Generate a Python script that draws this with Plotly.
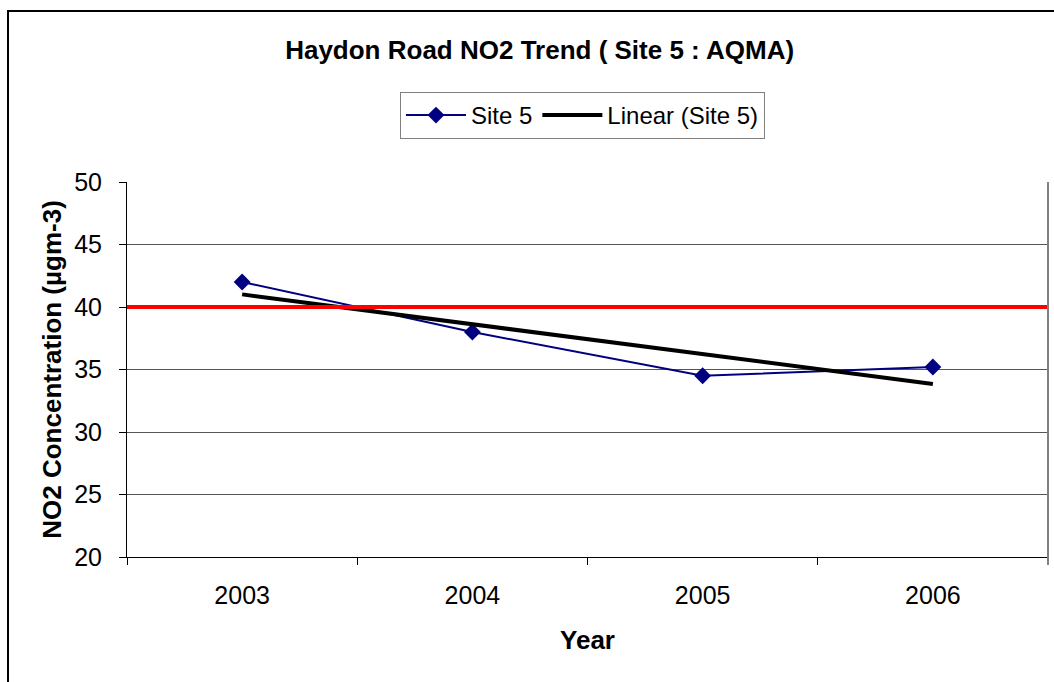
import numpy as np
import plotly.graph_objects as go

# Datos
years = ["2003", "2004", "2005", "2006"]
site5 = [42.0, 38.0, 34.5, 35.2]
objective = 40  # objetivo anual NO2

# Linea de tendencia (ajuste lineal como en Excel)
idx = np.arange(1, len(years) + 1)
slope, intercept = np.polyfit(idx, site5, 1)
trend = slope * idx + intercept

FONT = "Arial, Liberation Sans, sans-serif"

fig = go.Figure()
fig.add_trace(go.Scatter(
    x=years, y=site5, name="Site 5", mode="lines+markers",
    line=dict(color="#000080", width=2),
    marker=dict(symbol="diamond", size=13, color="#000080"),
))
fig.add_trace(go.Scatter(
    x=years, y=trend, name="Linear (Site 5)", mode="lines",
    line=dict(color="black", width=4),
))

# Linea del objetivo
fig.add_shape(type="line", xref="paper", x0=0, x1=1, y0=objective, y1=objective,
              line=dict(color="#ff0000", width=4), layer="above")
# Borde derecho del area de trazado
fig.add_shape(type="line", xref="paper", yref="paper", x0=1, x1=1, y0=-0.021, y1=1,
              line=dict(color="#808080", width=2))
# Borde exterior del grafico
fig.add_shape(type="rect", xref="paper", yref="paper",
              x0=-0.1292, x1=1.2, y0=-0.5, y1=1.456,
              line=dict(color="black", width=2), fillcolor="rgba(0,0,0,0)")

fig.update_layout(
    width=1054, height=682,
    margin=dict(l=127, r=6, t=182, b=125),
    paper_bgcolor="white", plot_bgcolor="white",
    font=dict(family=FONT, color="black"),
    title=dict(text="<b>Haydon Road NO2 Trend ( Site 5 : AQMA)</b>",
               font=dict(size=26), x=0.512, xanchor="center", y=0.927, yanchor="middle"),
    showlegend=True,
    legend=dict(orientation="h", x=0.2964, y=1.24, xanchor="left", yanchor="top",
                bordercolor="#808080", borderwidth=1, font=dict(size=24),
                itemwidth=60, bgcolor="white"),
    xaxis=dict(
        type="category", range=[-0.5, len(years) - 0.5],
        tickson="boundaries", ticks="outside", ticklen=7,
        tickcolor="black", showline=True, linecolor="black", linewidth=1,
        showgrid=False, tickfont=dict(size=25), ticklabelstandoff=16,
        title=dict(text="<b>Year</b>", font=dict(size=26), standoff=22),
    ),
    yaxis=dict(
        range=[20, 50], dtick=5, ticks="outside", ticklen=7, tickcolor="black",
        showline=True, linecolor="black", linewidth=1,
        showgrid=True, gridcolor="#555555", gridwidth=1, zeroline=False,
        tickfont=dict(size=25), ticklabelstandoff=12,
        title=dict(text="<b>NO2 Concentration (µgm-3)</b>", font=dict(size=26), standoff=5),
    ),
)

# sin margen del body, para que la figura ocupe la ventana exacta
fig.write_html("out.html", config={"displayModeBar": False},
               post_script="document.body.style.margin='0';")
